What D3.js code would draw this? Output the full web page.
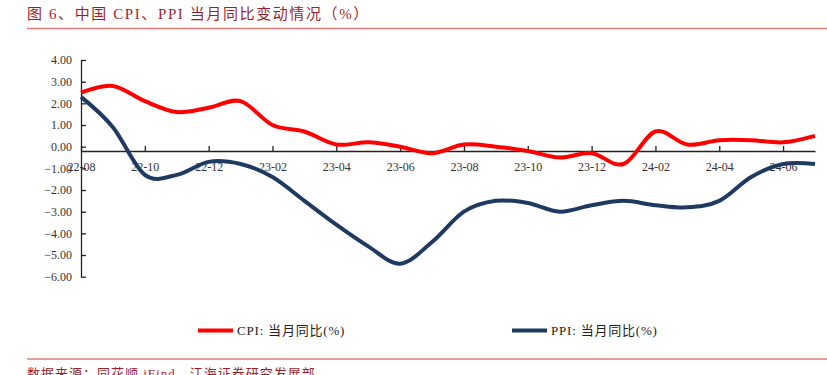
<!DOCTYPE html>
<html><head><meta charset="utf-8">
<script src="https://cdn.jsdelivr.net/npm/d3@7"></script>
<style>
body{margin:0;background:#fff;}
svg{display:block;}
</style></head>
<body>
<svg id="c" width="827" height="375"></svg>
<script>
const months = ["22-08","22-09","22-10","22-11","22-12","23-01","23-02","23-03","23-04","23-05","23-06","23-07","23-08","23-09","23-10","23-11","23-12","24-01","24-02","24-03","24-04","24-05","24-06","24-07"];
const cpi = [2.5,2.8,2.1,1.6,1.8,2.1,1.0,0.7,0.1,0.2,0.0,-0.3,0.1,0.0,-0.2,-0.5,-0.3,-0.8,0.7,0.1,0.3,0.3,0.2,0.5];
const ppi = [2.3,0.9,-1.3,-1.3,-0.7,-0.8,-1.4,-2.5,-3.6,-4.6,-5.4,-4.4,-3.0,-2.5,-2.6,-3.0,-2.7,-2.5,-2.7,-2.8,-2.5,-1.4,-0.8,-0.8];
const yTicks = [4,3,2,1,0,-1,-2,-3,-4,-5,-6];
const seriesNames = ["CPI: 当月同比(%)","PPI: 当月同比(%)"];
const title = "图 6、中国 CPI、PPI 当月同比变动情况（%）";
const source = "数据来源：同花顺 iFind，江海证券研究发展部";

const svg = d3.select("#c");
const maroon = "#9a1f2e";
const ruleColor = "#e07b7b";
const serif = "'Liberation Serif','Noto Sans CJK SC',serif";

// Title
svg.append("text").attr("x",27).attr("y",19).attr("fill",maroon)
  .attr("font-family",serif).attr("font-size",15).attr("letter-spacing",1.6)
  .text(title);
svg.append("line").attr("x1",27).attr("x2",827).attr("y1",28.5).attr("y2",28.5)
  .attr("stroke",ruleColor).attr("stroke-width",1.5);

// Scales
const x = d3.scaleLinear().domain([0, months.length-1]).range([81, 815]);
const y = d3.scaleLinear().domain([-6,4]).range([276.7,60]);

// Y axis
const yAxis = d3.axisLeft(y).tickValues(yTicks).tickFormat(d3.format(".2f"))
  .tickSize(-5).tickSizeOuter(0).tickPadding(9);
const gy = svg.append("g").attr("transform","translate(81,0)").call(yAxis);
gy.selectAll("text").attr("font-family",serif).attr("font-size",12).attr("fill","#333");
gy.selectAll("line,path").attr("stroke","#222").attr("stroke-width",1.3);

// X axis crossing at -0.2
const xAxis = d3.axisBottom(x).tickValues(d3.range(0, months.length, 2))
  .tickFormat(i => months[i]).tickSize(-5).tickSizeOuter(0).tickPadding(11);
const gx = svg.append("g").attr("transform",`translate(0,${y(-0.2)})`).call(xAxis);
gx.selectAll("text").attr("font-family",serif).attr("font-size",12).attr("fill","#333");
gx.selectAll("line,path").attr("stroke","#222").attr("stroke-width",1.3);
gy.raise();

// Lines
const line = d3.line().x((d,i)=>x(i)).y(d=>y(d)).curve(d3.curveCatmullRom.alpha(0));
svg.append("path").datum(ppi).attr("d",line).attr("fill","none")
  .attr("stroke","#1f3a60").attr("stroke-width",4).attr("stroke-linejoin","round");
svg.append("path").datum(cpi).attr("d",line).attr("fill","none")
  .attr("stroke","#ff0000").attr("stroke-width",4).attr("stroke-linejoin","round");

// Legend
const legend = [{n:seriesNames[0],c:"#ff0000",x:198},{n:seriesNames[1],c:"#1f3a60",x:512}];
legend.forEach(l=>{
  svg.append("line").attr("x1",l.x).attr("x2",l.x+35).attr("y1",330.5).attr("y2",330.5)
    .attr("stroke",l.c).attr("stroke-width",4);
  svg.append("text").attr("x",l.x+39).attr("y",335).attr("font-family",serif)
    .attr("font-size",13).attr("letter-spacing",0.8).attr("fill","#222").text(l.n);
});

// Footer
svg.append("line").attr("x1",27).attr("x2",827).attr("y1",359).attr("y2",359)
  .attr("stroke",ruleColor).attr("stroke-width",1.5);
svg.append("text").attr("x",27).attr("y",378).attr("fill",maroon)
  .attr("font-family",serif).attr("font-size",13).attr("letter-spacing",1)
  .text(source);
</script>
</body></html>
